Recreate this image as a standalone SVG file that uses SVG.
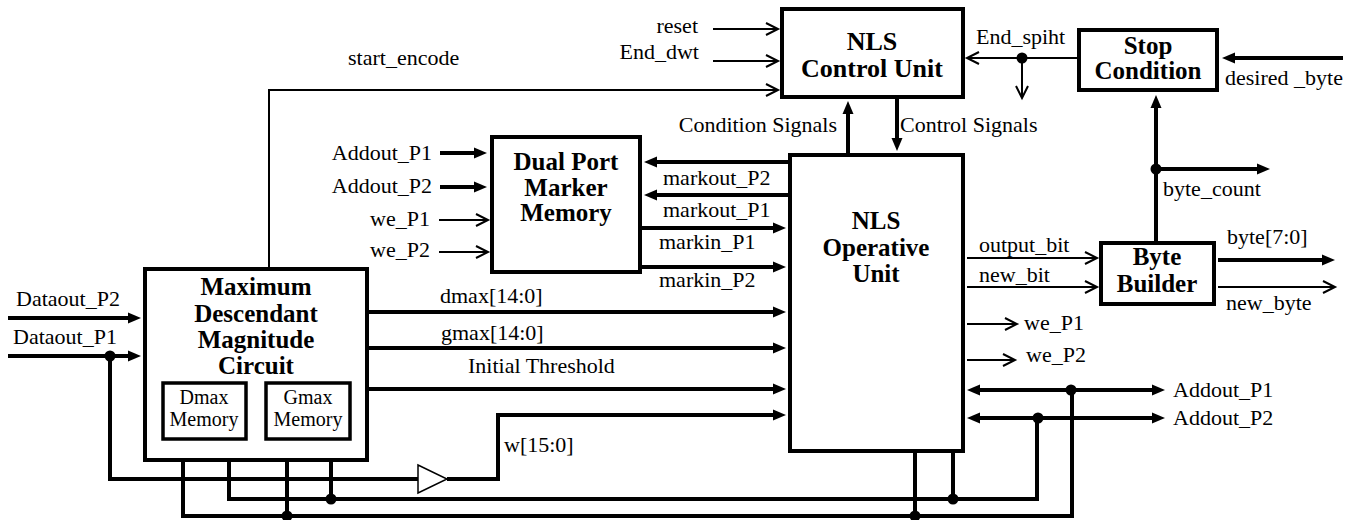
<svg xmlns="http://www.w3.org/2000/svg" width="1370" height="520" viewBox="0 0 1370 520">
<defs>
<marker id="af" markerUnits="userSpaceOnUse" markerWidth="14" markerHeight="12" refX="8" refY="5.5" orient="auto-start-reverse" overflow="visible"><path d="M0,0 L13,5.5 L0,11 Z" fill="#000"/></marker>
<marker id="ao" markerUnits="userSpaceOnUse" markerWidth="14" markerHeight="14" refX="12" refY="6" orient="auto-start-reverse" overflow="visible"><path d="M0,0 L12,6 L0,12" fill="none" stroke="#000" stroke-width="2"/></marker>
</defs>
<style>
.box{fill:#fff;stroke:#000;stroke-width:4}
.mem{fill:#fff;stroke:#000;stroke-width:3.5}
.thin{fill:none;stroke:#000;stroke-width:2}
.thick{fill:none;stroke:#000;stroke-width:4}
.o{marker-end:url(#ao)}
.f{marker-end:url(#af)}
.ff{marker-start:url(#af);marker-end:url(#af)}
.dot{fill:#000}
.l{font-family:'Liberation Serif',serif;font-size:22px;fill:#000}
.e{font-family:'Liberation Serif',serif;font-size:22px;fill:#000;text-anchor:end}
.t{font-family:'Liberation Serif',serif;font-weight:bold;font-size:25px;text-anchor:middle;fill:#000}
.tl{font-size:26px}
.m{font-family:'Liberation Serif',serif;font-size:20px;text-anchor:middle;fill:#000}
</style>
<rect width="1370" height="520" fill="#fff"/>

<g id="connectors">
<path class="thin o" d="M713,29 H778"/>
<path class="thin o" d="M713,61 H778"/>
<path class="thin o" d="M269,267 V90 H778"/>
<path class="thin o" d="M1077,58 H967"/>
<path class="thin o" d="M1022,58 V98"/>
<path class="thin o" d="M439,220 H488"/>
<path class="thin o" d="M439,252 H488"/>
<path class="thin o" d="M967,258 H1097"/>
<path class="thin o" d="M967,287 H1097"/>
<path class="thin o" d="M967,324 H1017"/>
<path class="thin o" d="M967,360 H1015"/>
<path class="thin o" d="M1218,287 H1335"/>
<path class="thick f" d="M1343,58 H1227"/>
<path class="thick f" d="M1156,241 V100"/>
<path class="thick f" d="M1156,169 H1265"/>
<path class="thick f" d="M1218,260 H1330"/>
<path class="thick f" d="M848,153 V106"/>
<path class="thick f" d="M897,99 V146"/>
<path class="thick f" d="M440,153 H482"/>
<path class="thick f" d="M440,187 H482"/>
<path class="thick f" d="M788,162 H649"/>
<path class="thick f" d="M788,195 H649"/>
<path class="thick f" d="M642,228 H781"/>
<path class="thick f" d="M642,267 H781"/>
<path class="thick f" d="M8,318 H136"/>
<path class="thick f" d="M8,356 H136"/>
<path class="thick f" d="M369,312 H781"/>
<path class="thick f" d="M369,348 H781"/>
<path class="thick f" d="M369,389 H781"/>
<path class="thick f" d="M447,479 H498 V415 H781"/>
<path class="thick" d="M110,356 V479 H418"/>
<path d="M418,465 L447,479 L418,493 Z" fill="#fff" stroke="#000" stroke-width="1.5"/>
<path class="thick ff" d="M972,390 H1160"/>
<path class="thick ff" d="M972,418 H1160"/>
<path class="thick f" d="M1037,418 V499 H229 V448"/>
<path class="thick f" d="M331,499 V448"/>
<path class="thick" d="M953,453 V499"/>
<path class="thick f" d="M1072,390 V516 H183 V448"/>
<path class="thick f" d="M287,516 V448"/>
<path class="thick" d="M915,453 V516"/>
<circle class="dot" cx="110" cy="356" r="5.5"/>
<circle class="dot" cx="1022" cy="58" r="5.5"/>
<circle class="dot" cx="1156" cy="169" r="5.5"/>
<circle class="dot" cx="1071" cy="390" r="5.5"/>
<circle class="dot" cx="1038" cy="418" r="5.5"/>
<circle class="dot" cx="953" cy="499" r="5.5"/>
<circle class="dot" cx="915" cy="516" r="5.5"/>
<circle class="dot" cx="331" cy="499" r="5.5"/>
<circle class="dot" cx="287" cy="516" r="5.5"/>
<text class="e" x="698" y="33">reset</text>
<text class="e" x="699" y="59">End_dwt</text>
<text class="l" x="348" y="65">start_encode</text>
<text class="l" x="976" y="44">End_spiht</text>
<text class="l" x="1225" y="85">desired _byte</text>
<text class="l" x="1163" y="196">byte_count</text>
<text class="l" x="1227" y="244">byte[7:0]</text>
<text class="l" x="1226" y="310">new_byte</text>
<text class="l" x="979" y="252">output_bit</text>
<text class="l" x="979" y="282">new_bit</text>
<text class="l" x="1024" y="330">we_P1</text>
<text class="l" x="1026" y="362">we_P2</text>
<text class="l" x="1173" y="397">Addout_P1</text>
<text class="l" x="1173" y="425">Addout_P2</text>
<text class="e" x="837" y="132">Condition Signals</text>
<text class="l" x="900" y="132">Control Signals</text>
<text class="e" x="432" y="160">Addout_P1</text>
<text class="e" x="432" y="193">Addout_P2</text>
<text class="e" x="430" y="226">we_P1</text>
<text class="e" x="430" y="257">we_P2</text>
<text class="l" x="663" y="185">markout_P2</text>
<text class="l" x="663" y="217">markout_P1</text>
<text class="l" x="659" y="249">markin_P1</text>
<text class="l" x="659" y="287">markin_P2</text>
<text class="l" x="440" y="303">dmax[14:0]</text>
<text class="l" x="441" y="340">gmax[14:0]</text>
<text class="l" x="468" y="373">Initial Threshold</text>
<text class="l" x="504" y="452">w[15:0]</text>
<text class="l" x="16" y="306">Dataout_P2</text>
<text class="l" x="13" y="344">Dataout_P1</text>
</g>

<g id="nls-control-unit">
<rect class="box" x="782" y="9" width="181" height="88"/>
<text class="t tl" x="872" y="50">NLS</text>
<text class="t tl" x="872" y="77">Control Unit</text>
</g>
<g id="stop-condition">
<rect class="box" x="1079" y="30" width="138" height="60"/>
<text class="t" x="1148" y="54">Stop</text>
<text class="t" x="1148" y="79">Condition</text>
</g>
<g id="nls-operative-unit">
<rect class="box" x="790" y="155" width="173" height="296"/>
<text class="t" x="876" y="229">NLS</text>
<text class="t" x="876" y="256">Operative</text>
<text class="t" x="876" y="282">Unit</text>
</g>
<g id="dual-port-marker-memory">
<rect class="box" x="492" y="137" width="148" height="135"/>
<text class="t" x="566" y="170">Dual Port</text>
<text class="t" x="566" y="196">Marker</text>
<text class="t" x="566" y="221">Memory</text>
</g>
<g id="mdmc">
<rect class="box" x="145" y="269" width="222" height="191"/>
<text class="t" x="256" y="295">Maximum</text>
<text class="t" x="256" y="322">Descendant</text>
<text class="t" x="256" y="348">Magnitude</text>
<text class="t" x="256" y="374">Circuit</text>
</g>
<g id="dmax-memory">
<rect class="mem" x="163" y="383" width="83" height="56"/>
<text class="m" x="204" y="404">Dmax</text>
<text class="m" x="204" y="426">Memory</text>
</g>
<g id="gmax-memory">
<rect class="mem" x="266" y="383" width="84" height="56"/>
<text class="m" x="308" y="404">Gmax</text>
<text class="m" x="308" y="426">Memory</text>
</g>
<g id="byte-builder">
<rect class="box" x="1101" y="243" width="113" height="61"/>
<text class="t" x="1157" y="265">Byte</text>
<text class="t" x="1157" y="292">Builder</text>
</g>
</svg>
